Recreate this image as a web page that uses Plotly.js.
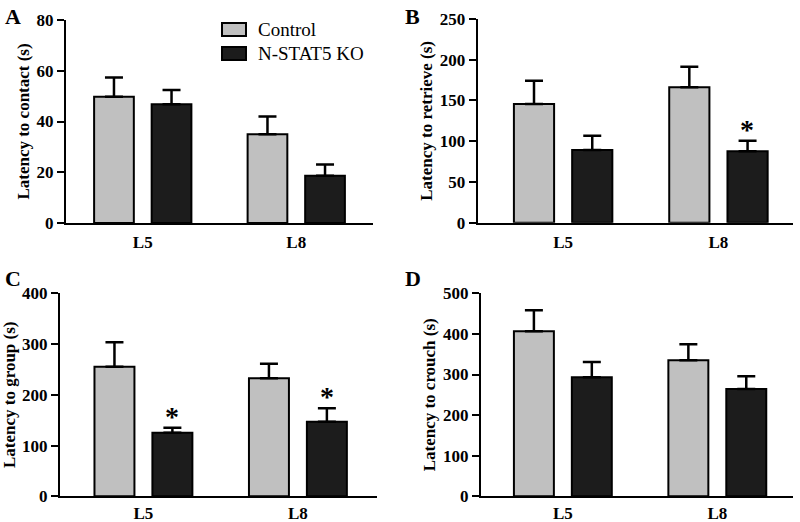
<!DOCTYPE html>
<html>
<head>
<meta charset="utf-8">
<script src="https://cdn.plot.ly/plotly-3.0.1.min.js"></script>
<style>
  html, body { margin: 0; padding: 0; background: #fff; }
  #graph { width: 800px; height: 522px; }
</style>
</head>
<body>
<div id="graph"></div>
<script>
// Данные
const days = ['L5', 'L8'];
const groups = ['Control', 'N-STAT5 KO'];

const contactCtrl = [49.8, 35.0];
const contactCtrlErr = [7.5, 7.0];
const contactKO = [46.8, 18.6];
const contactKOErr = [5.6, 4.5];

const retrieveCtrl = [145.7, 166.2];
const retrieveCtrlErr = [28.6, 25.3];
const retrieveKO = [89.2, 87.6];
const retrieveKOErr = [17.6, 13.0];

const groupCtrl = [255.4, 232.5];
const groupCtrlErr = [48.0, 28.8];
const groupKO = [125.3, 147.0];
const groupKOErr = [9.9, 26.4];

const crouchCtrl = [406.4, 335.0];
const crouchCtrlErr = [51.6, 39.4];
const crouchKO = [293.0, 264.3];
const crouchKOErr = [37.8, 31.3];

const panelTitles = ['Latency to contact (s)', 'Latency to retrieve (s)', 'Latency to group (s)', 'Latency to crouch (s)'];
const panelMax = [80, 250, 400, 500];
const panelDtick = [20, 50, 100, 100];
// звёздочки: [панель, день]
const stars = [[1, 'L8'], [2, 'L5'], [2, 'L8']];

const ctrlColor = '#c0c0c0';
const koColor = '#1c1c1c';
const serif = '"Liberation Serif", "Times New Roman", serif';

const panels = [
    [contactCtrl, contactCtrlErr, contactKO, contactKOErr],
    [retrieveCtrl, retrieveCtrlErr, retrieveKO, retrieveKOErr],
    [groupCtrl, groupCtrlErr, groupKO, groupKOErr],
    [crouchCtrl, crouchCtrlErr, crouchKO, crouchKOErr]
];

function makeBar(values, errs, color, name, i) {
    const sfx = i === 0 ? '' : String(i + 1);
    return {
        type: 'bar',
        x: days,
        y: values,
        name: name,
        xaxis: 'x' + sfx,
        yaxis: 'y' + sfx,
        marker: { color: color, line: { color: '#000', width: 2 } },
        error_y: {
            type: 'data', symmetric: false,
            array: errs, arrayminus: errs.map(() => 0),
            color: '#000', thickness: 2.5, width: 9
        },
        showlegend: false,
        hoverinfo: 'skip'
    };
}

const traces = [];
panels.forEach((p, i) => {
    traces.push(makeBar(p[0], p[1], ctrlColor, groups[0], i));
    traces.push(makeBar(p[2], p[3], koColor, groups[1], i));
});

// расположение панелей в пикселях -> доли
const W = 800, H = 522;
const boxes = [
    { x0: 66, x1: 373, y0: 223, y1: 20, range: [-0.5, 1.5] },
    { x0: 477.7, x1: 793, y0: 222.7, y1: 19, range: [-0.55, 1.48] },
    { x0: 60, x1: 376.7, y0: 496.3, y1: 293.3, range: [-0.54, 1.51] },
    { x0: 481, x1: 793, y0: 496.3, y1: 293.3, range: [-0.53, 1.49] }
];

const layout = {
    width: W, height: H,
    margin: { l: 0, r: 0, t: 0, b: 0 },
    paper_bgcolor: '#fff',
    plot_bgcolor: 'rgba(0,0,0,0)',
    barmode: 'group',
    bargap: 0.25,
    bargroupgap: 0.31,
    showlegend: false,
    font: { family: serif, color: '#000' },
    annotations: [],
    shapes: []
};

boxes.forEach((b, i) => {
    const sfx = i === 0 ? '' : String(i + 1);
    layout['xaxis' + sfx] = {
        domain: [b.x0 / W, b.x1 / W],
        anchor: 'y' + sfx,
        range: b.range,
        showline: true, linecolor: '#000', linewidth: 2,
        ticks: '', showgrid: false, zeroline: false,
        tickfont: { family: serif, size: 17, weight: 'bold' },
        ticklabelstandoff: i < 2 ? 3 : 0,
        fixedrange: true
    };
    layout['yaxis' + sfx] = {
        domain: [1 - b.y0 / H, 1 - b.y1 / H],
        anchor: 'x' + sfx,
        range: [0, panelMax[i]],
        dtick: panelDtick[i],
        showline: true, linecolor: '#000', linewidth: 2,
        ticks: 'outside', ticklen: 7, tickwidth: 2, tickcolor: '#000',
        showgrid: false, zeroline: false,
        tickfont: { family: serif, size: 17, weight: 'bold' },
        title: { text: panelTitles[i], font: { family: serif, size: 17, weight: 'bold' }, standoff: 3 },
        fixedrange: true
    };
    // буква панели
    layout.annotations.push({
        xref: 'paper', yref: 'paper',
        x: (i % 2 === 0 ? 3 : 403) / W, y: 1 - (i < 2 ? 2 : 264) / H,
        xanchor: 'left', yanchor: 'top',
        text: 'ABCD'[i], showarrow: false,
        font: { family: serif, size: 22, weight: 'bold' }
    });
});

stars.forEach(([i, day]) => {
    const sfx = i === 0 ? '' : String(i + 1);
    const k = days.indexOf(day);
    const p = panels[i];
    layout.annotations.push({
        xref: 'x' + sfx, yref: 'y' + sfx,
        x: day, y: p[2][k] + p[3][k],
        xshift: 29, yshift: -6,
        yanchor: 'bottom',
        text: '*', showarrow: false,
        font: { family: serif, size: 28, weight: 'bold' }
    });
});

// легенда
const legendItems = [[groups[0], ctrlColor, 23], [groups[1], koColor, 47]];
legendItems.forEach(([name, color, top]) => {
    layout.shapes.push({
        type: 'rect', xref: 'paper', yref: 'paper',
        x0: 222 / W, x1: 246 / W, y0: 1 - (top + 13) / H, y1: 1 - top / H,
        fillcolor: color, line: { color: '#000', width: 2 }
    });
    layout.annotations.push({
        xref: 'paper', yref: 'paper',
        x: 256 / W, y: 1 - (top + 6.5) / H,
        xanchor: 'left', yanchor: 'middle',
        text: name, showarrow: false,
        font: { family: serif, size: 19 }
    });
});

Plotly.newPlot('graph', traces, layout, { displayModeBar: false, staticPlot: true });
</script>
</body>
</html>
